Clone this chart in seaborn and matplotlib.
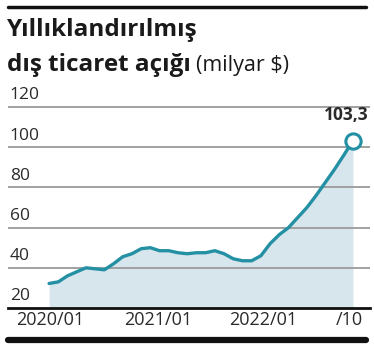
import numpy as np
import pandas as pd
import seaborn as sns
import matplotlib.pyplot as plt
from matplotlib.lines import Line2D

# --- data (yillik dis ticaret acigi, milyar $), 2020/01 .. 2022/10 ---
months = list(range(34))
values = [32.2, 33.0, 36.0, 38.0, 40.0, 39.5, 39.0, 42.0, 45.5, 47.0,
          49.5, 50.0, 48.5, 48.5, 47.5, 47.0, 47.5, 47.5, 48.5, 47.0,
          44.5, 43.5, 43.5, 46.0, 52.0, 56.5, 60.0, 65.0, 70.0, 76.0,
          82.5, 89.0, 96.0, 103.3]
tick_labels = ['2020/01', '2021/01', '2022/01', '/10']
tick_pos = [0.1, 11.8, 23.2, 32.6]
y_ticks = [20, 40, 60, 80, 100, 120]
last_label = '103,3'

df = pd.DataFrame({'ay': months, 'deger': values})

sns.set_theme(style='white')
plt.rcParams['font.family'] = ['Open Sans', 'DejaVu Sans']

line_color = '#2390a3'
fill_color = '#d7e5ed'
text_color = '#2a2a2a'

fig = plt.figure(figsize=(3.74, 3.52), dpi=100)
ax = fig.add_axes([8 / 374, 44 / 352, 362 / 374, 205 / 352])

ax.fill_between(df['ay'], 20, df['deger'], color=fill_color, lw=0, zorder=1)
sns.lineplot(data=df, x='ay', y='deger', ax=ax, color=line_color, lw=2.4, zorder=3)
ax.plot(df['ay'].iloc[-1], df['deger'].iloc[-1], 'o', ms=11, mfc='white',
        mec=line_color, mew=2.2, zorder=4)
ax.annotate(last_label, (df['ay'].iloc[-1], df['deger'].iloc[-1]),
            xytext=(-5, 12), textcoords='offset points', ha='center', va='bottom',
            fontsize=12.5, fontweight='bold', color=text_color)

ax.set_xlim(-4.46, 34.85)
ax.set_ylim(20, 122)
for v in y_ticks[1:]:
    ax.axhline(v, color='#9a9a9a', lw=1.3, zorder=2)
for v in y_ticks:
    ax.text(0.005, v + 1.8, str(v), transform=ax.get_yaxis_transform(),
            ha='left', va='bottom', fontsize=12.5, color=text_color)

ax.set_xticks(tick_pos)
ax.set_xticklabels(tick_labels, fontsize=13, color=text_color)
ax.tick_params(axis='x', length=0, pad=2)
ax.set_yticks([])
ax.set_xlabel('')
ax.set_ylabel('')
for s in ['top', 'left', 'right']:
    ax.spines[s].set_visible(False)
ax.spines['bottom'].set_color('#111111')
ax.spines['bottom'].set_linewidth(2)

# title
fig.text(7 / 374, 1 - 30 / 352, 'Yıllıklandırılmış', fontsize=17.5, fontweight='bold',
         va='center', ha='left', color='#1a1a1a')
t2 = fig.text(7 / 374, 1 - 65 / 352, 'dış ticaret açığı', fontsize=17.5, fontweight='bold',
              va='center', ha='left', color='#1a1a1a')
fig.canvas.draw()
bb = t2.get_window_extent()
fig.text((bb.x1 + 5) / 374, 1 - 65 / 352, '(milyar $)', fontsize=15.5,
         va='center', ha='left', color='#1a1a1a')

# black rules
fig.add_artist(Line2D([8 / 374, 366 / 374], [1 - 7 / 352] * 2, color='#111111', lw=2.5))
fig.add_artist(Line2D([8 / 374, 366 / 374], [1 - 340 / 352] * 2, color='#111111', lw=4.5))

fig.savefig('out.png', dpi=100)
